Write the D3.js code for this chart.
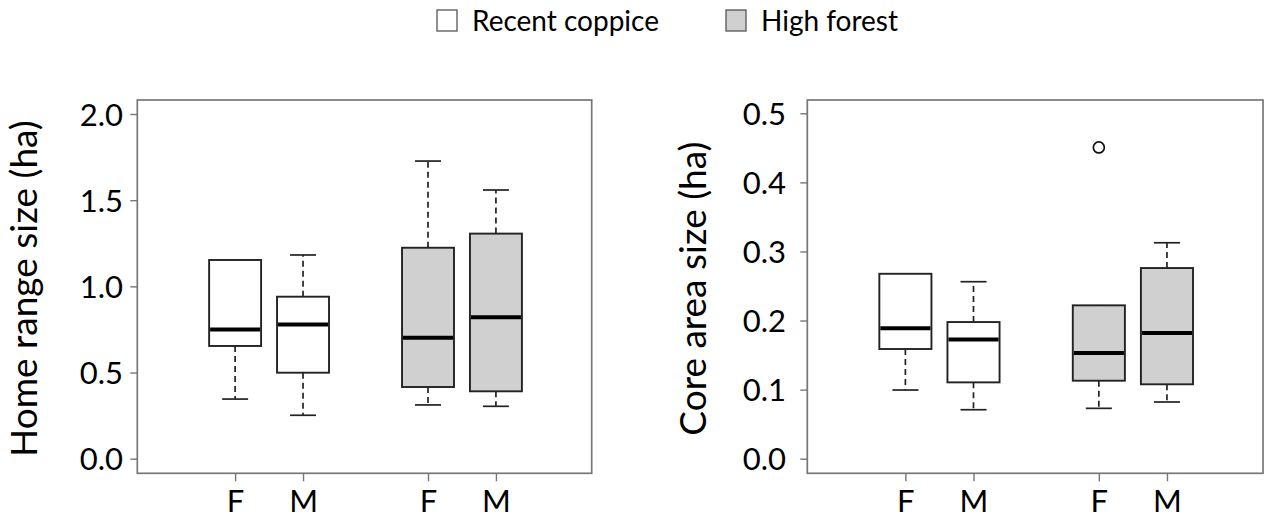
<!DOCTYPE html>
<html>
<head>
<meta charset="utf-8">
<script src="https://cdn.jsdelivr.net/npm/d3@7"></script>
<style>
  html, body { margin: 0; padding: 0; background: #fff; }
  svg { display: block; }
  text { font-family: Lato, "Open Sans", sans-serif; fill: #000; }
</style>
</head>
<body>
<svg id="chart" width="1264" height="519"></svg>
<script>
// ---- data ----
const groups = ["Recent coppice", "High forest"];
const sexes = ["F", "M"];
const groupFills = ["#ffffff", "#d0d0d0"];

// Home range size (ha), order: RC-F, RC-M, HF-F, HF-M
const homeLow  = [0.346, 0.252, 0.312, 0.304];
const homeQ1   = [0.654, 0.499, 0.416, 0.391];
const homeMed  = [0.749, 0.778, 0.702, 0.820];
const homeQ3   = [1.153, 0.940, 1.224, 1.306];
const homeHigh = [1.153, 1.182, 1.727, 1.559];
const homeOut  = [[], [], [], []];
const homeTicks = [0, 0.5, 1.0, 1.5, 2.0];

// Core area size (ha)
const coreLow  = [0.0994, 0.0709, 0.0729, 0.0821];
const coreQ1   = [0.1588, 0.1105, 0.1129, 0.1077];
const coreMed  = [0.1887, 0.1727, 0.1530, 0.1819];
const coreQ3   = [0.2677, 0.1978, 0.2220, 0.2760];
const coreHigh = [0.2677, 0.2562, 0.2220, 0.3126];
const coreOut  = [[], [], [0.4506], []];
const coreTicks = [0, 0.1, 0.2, 0.3, 0.4, 0.5];

// ---- layout ----
const svg = d3.select("#chart");
const groupStep = 2.84, boxW = 0.765;

function buildBoxes(low, q1, med, q3, high, out) {
  const res = [];
  groups.forEach((g, gi) => sexes.forEach((s, si) => {
    const i = gi * sexes.length + si;
    res.push({ group: g, gi, sex: s, pos: gi * groupStep + si,
      low: low[i], q1: q1[i], med: med[i], q3: q3[i], high: high[i], out: out[i] });
  }));
  return res;
}

function panel(opt) {
  const { x0, x1, yTop, yBot, yDom, yRange, ticks, boxes, title, titleX, labelEnd } = opt;
  const x = d3.scaleLinear().domain([-1.44, 5.25]).range([x0, x1]);
  const y = d3.scaleLinear().domain(yDom).range(yRange);
  const g = svg.append("g");

  const bx = g.selectAll("g.box").data(boxes).join("g").attr("class", "box");
  const bw = x(boxW) - x(0);
  // whiskers (dashed)
  bx.append("line")
    .attr("x1", d => x(d.pos)).attr("x2", d => x(d.pos))
    .attr("y1", d => y(d.q3)).attr("y2", d => y(d.high))
    .attr("stroke", "#222").attr("stroke-width", 1.7).attr("stroke-dasharray", "6,4");
  bx.append("line")
    .attr("x1", d => x(d.pos)).attr("x2", d => x(d.pos))
    .attr("y1", d => y(d.q1)).attr("y2", d => y(d.low))
    .attr("stroke", "#222").attr("stroke-width", 1.7).attr("stroke-dasharray", "6,4");
  // caps
  bx.filter(d => d.high > d.q3).append("line")
    .attr("x1", d => x(d.pos) - bw / 4).attr("x2", d => x(d.pos) + bw / 4)
    .attr("y1", d => y(d.high)).attr("y2", d => y(d.high))
    .attr("stroke", "#222").attr("stroke-width", 1.7);
  bx.filter(d => d.low < d.q1).append("line")
    .attr("x1", d => x(d.pos) - bw / 4).attr("x2", d => x(d.pos) + bw / 4)
    .attr("y1", d => y(d.low)).attr("y2", d => y(d.low))
    .attr("stroke", "#222").attr("stroke-width", 1.7);
  // box
  bx.append("rect")
    .attr("x", d => x(d.pos) - bw / 2).attr("width", bw)
    .attr("y", d => y(d.q3)).attr("height", d => y(d.q1) - y(d.q3))
    .attr("fill", d => groupFills[d.gi]).attr("stroke", "#222").attr("stroke-width", 1.9);
  // median
  bx.append("line")
    .attr("x1", d => x(d.pos) - bw / 2 + 1).attr("x2", d => x(d.pos) + bw / 2 - 1)
    .attr("y1", d => y(d.med)).attr("y2", d => y(d.med))
    .attr("stroke", "#000").attr("stroke-width", 4);
  // outliers
  bx.selectAll("circle").data(d => d.out.map(v => ({ v, pos: d.pos }))).join("circle")
    .attr("cx", d => x(d.pos)).attr("cy", d => y(d.v)).attr("r", 5.5)
    .attr("fill", "none").attr("stroke", "#111").attr("stroke-width", 1.7);

  // frame
  g.append("rect").attr("x", x0).attr("y", yTop).attr("width", x1 - x0).attr("height", yBot - yTop)
    .attr("fill", "none").attr("stroke", "#777").attr("stroke-width", 1.7);

  // y axis
  const ya = g.append("g").attr("transform", `translate(${x0},0)`)
    .call(d3.axisLeft(y).tickValues(ticks).tickFormat(d3.format(".1f")).tickSize(7).tickPadding(x0 - labelEnd - 7));
  ya.select(".domain").remove();
  ya.selectAll(".tick line").attr("stroke", "#777").attr("stroke-width", 1.4);
  ya.selectAll(".tick text").style("font-size", "31px").attr("fill", "#000").attr("dy", "0.36em");

  // x axis
  const xa = g.append("g").attr("transform", `translate(0,${yBot})`)
    .call(d3.axisBottom(x).tickValues(boxes.map(d => d.pos)).tickFormat((d, i) => boxes[i].sex).tickSize(8).tickPadding(9));
  xa.select(".domain").remove();
  xa.selectAll(".tick line").attr("stroke", "#777").attr("stroke-width", 1.4);
  xa.selectAll(".tick text").style("font-size", "31px").attr("fill", "#000");

  // y title
  g.append("text")
    .attr("transform", `translate(${titleX},${(yTop + yBot) / 2 + 2}) rotate(-90)`)
    .attr("text-anchor", "middle").style("font-size", "37px").text(title);
}

panel({ x0: 137.3, x1: 591.7, yTop: 100, yBot: 473.3, yDom: [0, 2], yRange: [458.7, 114],
  ticks: homeTicks, boxes: buildBoxes(homeLow, homeQ1, homeMed, homeQ3, homeHigh, homeOut),
  title: "Home range size (ha)", titleX: 37, labelEnd: 123 });

panel({ x0: 807.3, x1: 1263, yTop: 100, yBot: 473.3, yDom: [0, 0.5], yRange: [458.7, 113.3],
  ticks: coreTicks, boxes: buildBoxes(coreLow, coreQ1, coreMed, coreQ3, coreHigh, coreOut),
  title: "Core area size (ha)", titleX: 706, labelEnd: 786 });

// legend
const legendX = [437, 726];
const leg = svg.append("g").selectAll("g").data(groups).join("g")
  .attr("transform", (d, i) => `translate(${legendX[i]},10)`);
leg.append("rect").attr("width", 20).attr("height", 21)
  .attr("fill", (d, i) => groupFills[i]).attr("stroke", "#555").attr("stroke-width", 1.3);
leg.append("text").attr("x", 35).attr("y", 21).style("font-size", "28px").text(d => d);
</script>
</body>
</html>
